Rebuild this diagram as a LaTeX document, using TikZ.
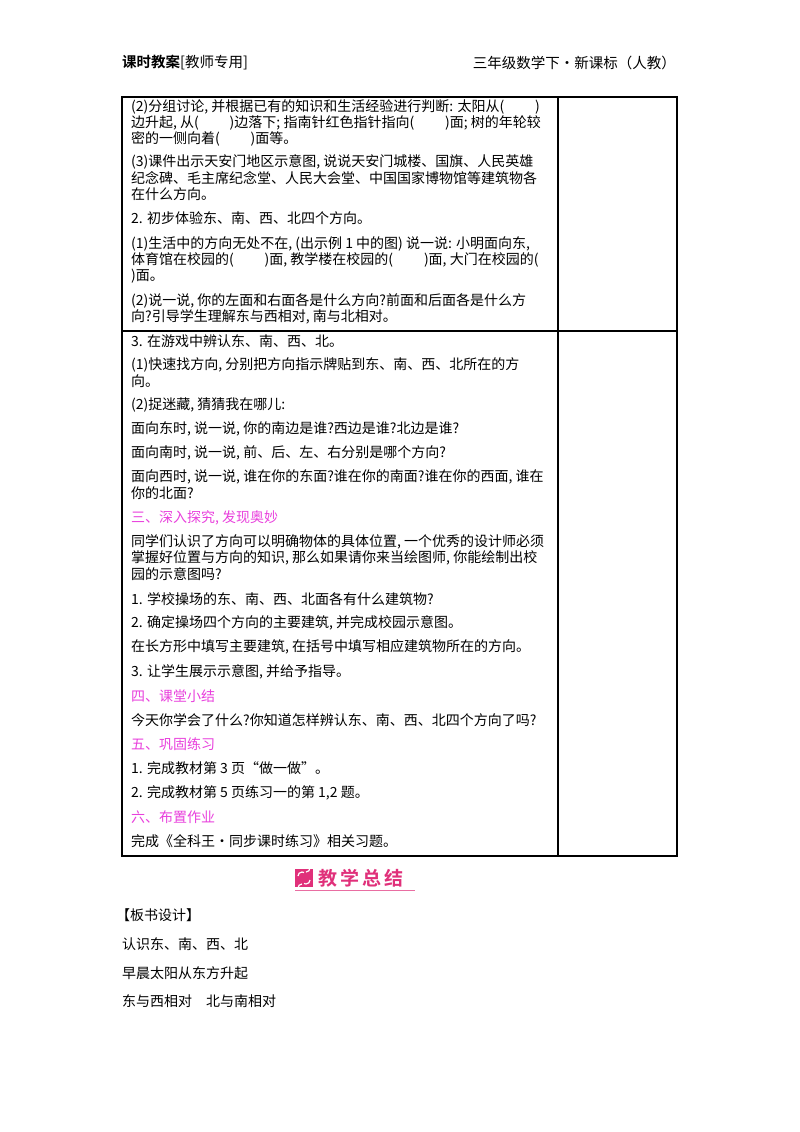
\documentclass[tikz,border=0pt]{standalone}
\usepackage{fontspec}
\setmainfont{Noto Sans CJK SC}[BoldFont={Noto Sans CJK SC Bold}]
\definecolor{mag}{HTML}{E840DC}
\definecolor{badge}{HTML}{E0307A}
\newcounter{lnc}
\newcommand\myline[2]{\stepcounter{lnc}\node[txt] (l\arabic{lnc}) at (131,#1) {#2};}
\newcommand\myhead[2]{\stepcounter{lnc}\node[txt,text=mag] (l\arabic{lnc}) at (131,#1) {#2};}
\tikzset{txt/.style={anchor=west,inner sep=0pt,font=\fontsize{14}{15}\selectfont},
 rule/.style={line width=1.4pt}}
\begin{document}
\begin{tikzpicture}[x=1pt,y=-1pt]
\useasboundingbox (0,0) rectangle (800,1132);
% header
\node[anchor=west,inner sep=0,font=\fontsize{14.5}{16}\selectfont] (hl) at (122,63) {\textbf{课时教案}[教师专用]};
\node[anchor=east,inner sep=0,font=\fontsize{14.5}{16}\selectfont] (hr) at (676,63) {三年级数学下·新课标（人教）};
% table
\draw[rule] (122,97) rectangle (677,856);
\draw[line width=1.1pt] (558,97) -- (558,856);
\draw[line width=1.1pt] (122,331) -- (677,331);
\myline{107}{(2)分组讨论, 并根据已有的知识和生活经验进行判断: 太阳从(\hspace{2.2em})}
\myline{123}{边升起, 从(\hspace{2.2em})边落下; 指南针红色指针指向(\hspace{2.2em})面; 树的年轮较}
\myline{139}{密的一侧向着(\hspace{2.2em})面等。}
\myline{162}{(3)课件出示天安门地区示意图, 说说天安门城楼、国旗、人民英雄}
\myline{178}{纪念碑、毛主席纪念堂、人民大会堂、中国国家博物馆等建筑物各}
\myline{194}{在什么方向。}
\myline{218}{2. 初步体验东、南、西、北四个方向。}
\myline{244}{(1)生活中的方向无处不在, (出示例 1 中的图) 说一说: 小明面向东,}
\myline{260}{体育馆在校园的(\hspace{2.2em})面, 教学楼在校园的(\hspace{2.2em})面, 大门在校园的(}
\myline{276}{)面。}
\myline{301}{(2)说一说, 你的左面和右面各是什么方向?前面和后面各是什么方}
\myline{317}{向?引导学生理解东与西相对, 南与北相对。}
\myline{341}{3. 在游戏中辨认东、南、西、北。}
\myline{365}{(1)快速找方向, 分别把方向指示牌贴到东、南、西、北所在的方}
\myline{381}{向。}
\myline{405}{(2)捉迷藏, 猜猜我在哪儿:}
\myline{429}{面向东时, 说一说, 你的南边是谁?西边是谁?北边是谁?}
\myline{453}{面向南时, 说一说, 前、后、左、右分别是哪个方向?}
\myline{477}{面向西时, 说一说, 谁在你的东面?谁在你的南面?谁在你的西面, 谁在}
\myline{493}{你的北面?}
\myhead{518}{三、深入探究, 发现奥妙}
\myline{542}{同学们认识了方向可以明确物体的具体位置, 一个优秀的设计师必须}
\myline{558}{掌握好位置与方向的知识, 那么如果请你来当绘图师, 你能绘制出校}
\myline{574}{园的示意图吗?}
\myline{599}{1. 学校操场的东、南、西、北面各有什么建筑物?}
\myline{623}{2. 确定操场四个方向的主要建筑, 并完成校园示意图。}
\myline{647}{在长方形中填写主要建筑, 在括号中填写相应建筑物所在的方向。}
\myline{672}{3. 让学生展示示意图, 并给予指导。}
\myhead{696}{四、课堂小结}
\myline{720}{今天你学会了什么?你知道怎样辨认东、南、西、北四个方向了吗?}
\myhead{744}{五、巩固练习}
\myline{768}{1. 完成教材第 3 页“做一做”。}
\myline{793}{2. 完成教材第 5 页练习一的第 1,2 题。}
\myhead{817}{六、布置作业}
\myline{841}{完成《全科王·同步课时练习》相关习题。}
% badge
\fill[badge] (295,869) rectangle (313,887);
\node[inner sep=0] (ic) at (304,878) {};
\draw[white,line width=1.2pt] (ic) ++(-6,-2) arc[start angle=180,end angle=300,radius=4];
\draw[white,line width=1.2pt] (ic) ++(6,2) arc[start angle=0,end angle=120,radius=4];
\draw[white,line width=1.2pt] (ic) ++(-2,6) arc[start angle=270,end angle=150,radius=4];
\draw[white,line width=1.2pt] (ic) ++(2,-6) arc[start angle=90,end angle=-30,radius=4];
\node[anchor=west,inner sep=0,text=badge,font=\fontsize{19}{21}\selectfont\bfseries] (bt) at (318,878) {教\,学\,总\,结};
\draw[badge!70,line width=0.8pt] (295,890) -- (415,890);
% board
\node[anchor=west,inner sep=0,font=\fontsize{14}{15}\selectfont] (b1) at (116,915) {【板书设计】};
\node[anchor=west,inner sep=0,font=\fontsize{14}{15}\selectfont] (b2) at (122,944) {认识东、南、西、北};
\node[anchor=west,inner sep=0,font=\fontsize{14}{15}\selectfont] (b3) at (122,973) {早晨太阳从东方升起};
\node[anchor=west,inner sep=0,font=\fontsize{14}{15}\selectfont] (b4) at (122,1001) {东与西相对\hspace{1em}北与南相对};
\end{tikzpicture}
\end{document}
